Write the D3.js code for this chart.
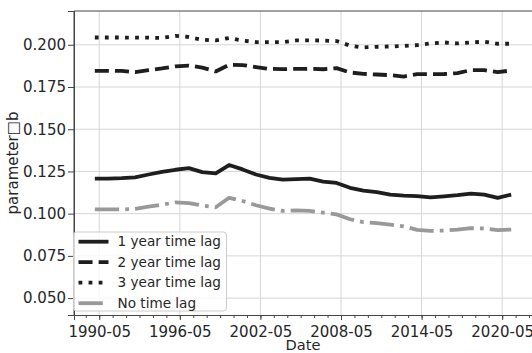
<!DOCTYPE html>
<html>
<head>
<meta charset="utf-8">
<script src="https://cdn.jsdelivr.net/npm/d3@7"></script>
<style>
  body { margin: 0; background: #fff; }
  svg { display: block; font-family: "DejaVu Sans", sans-serif; }
</style>
</head>
<body>
<svg id="chart" width="532" height="353"></svg>
<script>
// yearly observations, 1990 .. 2021
const years = d3.range(1990, 2022);
const oneYearLag = [0.1207, 0.1207, 0.1210, 0.1215, 0.1232, 0.1248, 0.1260, 0.1270, 0.1246, 0.1238,
  0.1288, 0.1262, 0.1232, 0.1212, 0.1201, 0.1204, 0.1207, 0.1190, 0.1182, 0.1153,
  0.1137, 0.1128, 0.1113, 0.1107, 0.1104, 0.1097, 0.1103, 0.1110, 0.1119, 0.1113,
  0.1094, 0.1113];
const twoYearLag = [0.1846, 0.1846, 0.1845, 0.1838, 0.1850, 0.1860, 0.1872, 0.1877, 0.1865, 0.1842,
  0.1882, 0.1880, 0.1868, 0.1857, 0.1856, 0.1857, 0.1858, 0.1855, 0.1862, 0.1836,
  0.1828, 0.1824, 0.1820, 0.1812, 0.1826, 0.1826, 0.1827, 0.1832, 0.1850, 0.1850,
  0.1838, 0.1848];
const threeYearLag = [0.2043, 0.2043, 0.2043, 0.2042, 0.2042, 0.2040, 0.2053, 0.2046, 0.2030, 0.2026,
  0.2040, 0.2025, 0.2016, 0.2016, 0.2016, 0.2026, 0.2026, 0.2025, 0.2022, 0.1995,
  0.1984, 0.1988, 0.1990, 0.1993, 0.1998, 0.2008, 0.2014, 0.2008, 0.2014, 0.2018,
  0.2006, 0.2006];
const noLag = [0.1025, 0.1025, 0.1025, 0.1028, 0.1042, 0.1053, 0.1067, 0.1063, 0.1048, 0.1038,
  0.1094, 0.1075, 0.1050, 0.1030, 0.1016, 0.1020, 0.1016, 0.1006, 0.0996, 0.0967,
  0.0950, 0.0944, 0.0935, 0.0925, 0.0904, 0.0898, 0.0900, 0.0906, 0.0914, 0.0912,
  0.0902, 0.0906];

const seriesNames = ["1 year time lag", "2 year time lag", "3 year time lag", "No time lag"];
const xTickLabels = ["1990-05", "1996-05", "2002-05", "2008-05", "2014-05", "2020-05"];
const yTicks = [0.050, 0.075, 0.100, 0.125, 0.150, 0.175, 0.200];

const lw = 3.8;
const styles = [
  { color: "#1e1e1e", dash: null },
  { color: "#1e1e1e", dash: [3.7 * lw, 1.6 * lw] },
  { color: "#1e1e1e", dash: [1 * lw, 1.65 * lw] },
  { color: "#999999", dash: [6.4 * lw, 1.6 * lw, 1 * lw, 1.6 * lw] }
];

const margin = { top: 11, right: 0, bottom: 38, left: 74 };
const W = 532, H = 353;
const svg = d3.select("#chart");
const g = svg.append("g").attr("transform", `translate(${margin.left},${margin.top})`);
const w = W - margin.left - margin.right;
const h = H - margin.top - margin.bottom;

const parse = d3.timeParse("%Y-%m");
const dates = years.map(y => new Date(y, 0, 1));
// 5% padding on each side, like matplotlib autoscale
const t0 = dates[0].getTime(), t1 = dates[dates.length - 1].getTime();
const pad = (t1 - t0) * 0.05;
const x = d3.scaleTime().domain([new Date(t0 - pad), new Date(t1 + pad)]).range([0, w]);
const y = d3.scaleLinear().domain([0.04, 0.22]).range([h, 0]);

const majorDates = xTickLabels.map(parse);
const minorDates = d3.range(1988, 2023).map(yr => new Date(yr, 4, 1))
  .filter(d => d >= x.domain()[0] && d <= x.domain()[1]);

// grid
g.append("g").selectAll("line").data(majorDates).join("line")
  .attr("x1", d => x(d)).attr("x2", d => x(d)).attr("y1", 0).attr("y2", h)
  .attr("stroke", "#d6d6d6").attr("stroke-width", 1);
g.append("g").selectAll("line").data(yTicks).join("line")
  .attr("x1", 0).attr("x2", w).attr("y1", d => y(d)).attr("y2", d => y(d))
  .attr("stroke", "#d6d6d6").attr("stroke-width", 1);

// lines
const allSeries = [oneYearLag, twoYearLag, threeYearLag, noLag];
const line = d3.line().x((d, i) => x(dates[i])).y(d => y(d));
allSeries.forEach((s, k) => {
  g.append("path").datum(s)
    .attr("d", line)
    .attr("fill", "none")
    .attr("stroke", styles[k].color)
    .attr("stroke-width", lw)
    .attr("stroke-linejoin", "round")
    .attr("stroke-dasharray", styles[k].dash ? styles[k].dash.join(",") : null);
});

// spines
g.append("line").attr("x1", 0).attr("x2", w).attr("y1", 0).attr("y2", 0).attr("stroke", "#444").attr("stroke-width", 1);
g.append("line").attr("x1", 0).attr("x2", 0).attr("y1", 0).attr("y2", h).attr("stroke", "#444").attr("stroke-width", 1);

// axes
const xAxis = g.append("g").attr("transform", `translate(0,${h})`)
  .call(d3.axisBottom(x).tickValues(majorDates).tickFormat(d3.timeFormat("%Y-%m")).tickSizeOuter(0).tickSize(5).tickPadding(3));
g.append("g").attr("transform", `translate(0,${h})`)
  .call(d3.axisBottom(x).tickValues(minorDates).tickFormat("").tickSizeOuter(0).tickSize(3))
  .call(a => a.select(".domain").remove());
const yAxis = g.append("g")
  .call(d3.axisLeft(y).tickValues(yTicks).tickFormat(d3.format(".3f")).tickSizeOuter(0).tickSize(6).tickPadding(2));

svg.selectAll(".tick text").attr("font-size", 15).attr("fill", "#262626").attr("font-family", "DejaVu Sans");
svg.selectAll(".tick line").attr("stroke", "#444");
svg.selectAll(".domain").attr("stroke", "#444");
xAxis.selectAll(".tick text").attr("dy", "0.9em");

// axis titles
svg.append("text").attr("x", margin.left + w / 2).attr("y", 350)
  .attr("text-anchor", "middle").attr("font-size", 14.6).attr("fill", "#262626").text("Date");
svg.append("text")
  .attr("transform", `translate(18,${margin.top + h / 2}) rotate(-90)`)
  .attr("text-anchor", "middle").attr("font-size", 15).attr("fill", "#262626").text("parameter\u25A1b");

// legend
const leg = g.append("g").attr("transform", "translate(-0.5,221)");
leg.append("rect").attr("x", 0).attr("y", 0).attr("width", 153).attr("height", 79)
  .attr("rx", 3).attr("fill", "#fff").attr("fill-opacity", 0.8)
  .attr("stroke", "#cccccc").attr("stroke-width", 1);
seriesNames.forEach((name, k) => {
  const cy = 9.7 + k * 20.5;
  leg.append("line").attr("x1", 5).attr("x2", 35).attr("y1", cy).attr("y2", cy)
    .attr("stroke", styles[k].color).attr("stroke-width", lw)
    .attr("stroke-dasharray", styles[k].dash ? styles[k].dash.join(",") : null);
  leg.append("text").attr("x", 44).attr("y", cy).attr("dy", "0.35em")
    .attr("font-size", 13.6).attr("fill", "#262626").text(name);
});
</script>
</body>
</html>
